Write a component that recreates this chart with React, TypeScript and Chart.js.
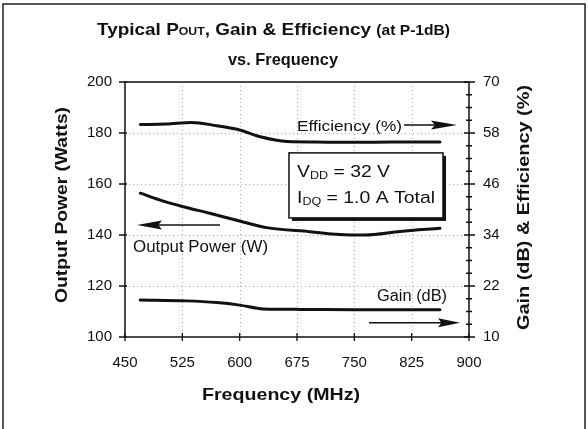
import { useEffect, useRef } from "react";
import { Chart, registerables } from "chart.js";

Chart.register(...registerables);

// ---- axis ticks ----
const FREQ_TICKS = [450, 525, 600, 675, 750, 825, 900];
const POWER_TICKS = [100, 120, 140, 160, 180, 200];
const RIGHT_TICKS = [10, 22, 34, 46, 58, 70];
const RIGHT_MINOR = [13, 16, 19, 25, 28, 31, 37, 40, 43, 49, 52, 55, 61, 64, 67];

// ---- series ----
const powerFreq = [470, 500, 525, 561, 600, 635, 692, 731, 764, 810, 862];
const powerW = [156.4, 153.3, 151.2, 148.5, 145.5, 142.9, 141.3, 140.2, 140.0, 141.4, 142.6];
const effFreq = [470, 504, 537, 570, 600, 627, 662, 700, 750, 800, 862];
const effPct = [60.0, 60.1, 60.5, 59.7, 58.7, 57.1, 56.0, 55.9, 55.8, 55.9, 55.9];
const gainFreq = [470, 530, 570, 600, 631, 680, 750, 800, 862];
const gainDb = [18.7, 18.5, 18.1, 17.5, 16.6, 16.5, 16.4, 16.4, 16.4];

const FONT = "'Liberation Sans', Arial, Helvetica, sans-serif";
const INK = "#111";

// annotation anchors in data units (freq MHz, left-axis watts)
const NOTES = {
  eff: { freq: 675, watts: 180.9, arrowY: 183.1, arrowFrom: 815, arrowTo: 884.3 },
  pout: { freq: 460.5, watts: 133.5, arrowY: 143.9, arrowFrom: 574.3, arrowTo: 465.7 },
  gain: { freq: 779.7, watts: 114.2, arrowY: 105.6, arrowFrom: 769.2, arrowTo: 888.3 },
  box: { left: 664.5, right: 866, top: 172.2, bottom: 146.7, textFreq: 675, line1: 162.7, line2: 152.5 },
};

type Run = { t: string; size: number; bold?: boolean; dy?: number };

function fontOf(r: Run) {
  return `${r.bold ? "bold " : ""}${r.size}px ${FONT}`;
}

function drawRuns(
  ctx: CanvasRenderingContext2D,
  runs: Run[],
  x: number,
  y: number,
  opts: { align?: "left" | "center"; target?: number; rotate?: boolean } = {}
) {
  ctx.save();
  let w = 0;
  for (const r of runs) {
    ctx.font = fontOf(r);
    w += ctx.measureText(r.t).width;
  }
  ctx.translate(x, y);
  if (opts.rotate) ctx.rotate(-Math.PI / 2);
  const s = opts.target ? opts.target / w : 1;
  ctx.scale(s, 1);
  let cx = opts.align === "center" ? -w / 2 : 0;
  ctx.fillStyle = INK;
  ctx.textBaseline = "alphabetic";
  ctx.textAlign = "left";
  for (const r of runs) {
    ctx.font = fontOf(r);
    ctx.fillText(r.t, cx, r.dy || 0);
    cx += ctx.measureText(r.t).width;
  }
  ctx.restore();
}

function arrow(ctx: CanvasRenderingContext2D, x1: number, y: number, x2: number, head = 24) {
  const dir = x2 > x1 ? 1 : -1;
  ctx.save();
  ctx.strokeStyle = INK;
  ctx.fillStyle = INK;
  ctx.lineWidth = 1.5;
  ctx.beginPath();
  ctx.moveTo(x1, y);
  ctx.lineTo(x2 - dir * head * 0.6, y);
  ctx.stroke();
  ctx.beginPath();
  ctx.moveTo(x2, y);
  ctx.lineTo(x2 - dir * head, y - 4.5);
  ctx.lineTo(x2 - dir * head * 0.85, y);
  ctx.lineTo(x2 - dir * head, y + 4.5);
  ctx.closePath();
  ctx.fill();
  ctx.restore();
}

const decor = {
  id: "decor",
  beforeDatasetsDraw(chart: any) {
    const { ctx, chartArea: a, scales } = chart;
    const sx = scales.x;
    const sy = scales.y;
    ctx.save();
    ctx.strokeStyle = "#a8a8a8";
    ctx.lineWidth = 1;
    ctx.setLineDash([1, 3]);
    FREQ_TICKS.slice(1, -1).forEach((f) => {
      const px = Math.round(sx.getPixelForValue(f)) + 0.5;
      ctx.beginPath();
      ctx.moveTo(px, a.top);
      ctx.lineTo(px, a.bottom);
      ctx.stroke();
    });
    POWER_TICKS.slice(1, -1).forEach((v) => {
      const py = Math.round(sy.getPixelForValue(v)) + 0.5;
      ctx.beginPath();
      ctx.moveTo(a.left, py);
      ctx.lineTo(a.right, py);
      ctx.stroke();
    });
    ctx.restore();
  },
  afterDraw(chart: any) {
    const { ctx, chartArea: a, scales } = chart;
    const sx = scales.x;
    const sy = scales.y;
    const sy1 = scales.y1;
    const X = (f: number) => sx.getPixelForValue(f);
    const Y = (v: number) => sy.getPixelForValue(v);

    ctx.save();
    // plot frame
    ctx.strokeStyle = INK;
    ctx.lineWidth = 1.5;
    ctx.strokeRect(a.left, a.top, a.right - a.left, a.bottom - a.top);

    // tick marks
    ctx.lineWidth = 1.3;
    ctx.beginPath();
    POWER_TICKS.forEach((v) => {
      const py = Y(v);
      ctx.moveTo(a.left - 6, py);
      ctx.lineTo(a.left + 2, py);
    });
    FREQ_TICKS.forEach((f) => {
      const px = X(f);
      ctx.moveTo(px, a.bottom - 4);
      ctx.lineTo(px, a.bottom + 4);
    });
    RIGHT_TICKS.forEach((v) => {
      const py = sy1.getPixelForValue(v);
      ctx.moveTo(a.right - 5, py);
      ctx.lineTo(a.right + 6, py);
    });
    RIGHT_MINOR.forEach((v) => {
      const py = sy1.getPixelForValue(v);
      ctx.moveTo(a.right - 3, py);
      ctx.lineTo(a.right + 3, py);
    });
    ctx.stroke();

    // outer figure border
    ctx.strokeStyle = "#222";
    ctx.lineWidth = 1.5;
    ctx.beginPath();
    ctx.moveTo(3, 440);
    ctx.lineTo(3, 4);
    ctx.lineTo(585, 4);
    ctx.lineTo(585, 440);
    ctx.stroke();
    ctx.restore();

    // titles
    drawRuns(
      ctx,
      [
        { t: "Typical P", size: 17, bold: true },
        { t: "OUT", size: 11, bold: true },
        { t: ", Gain & Efficiency ", size: 17, bold: true },
        { t: "(at P-1dB)", size: 14, bold: true },
      ],
      97,
      35,
      { target: 353 }
    );
    drawRuns(ctx, [{ t: "vs. Frequency", size: 17, bold: true }], 283, 65, { align: "center", target: 110 });

    // axis titles
    drawRuns(ctx, [{ t: "Output Power (Watts)", size: 16, bold: true }], 66.6, 205, {
      rotate: true,
      align: "center",
      target: 196,
    });
    drawRuns(ctx, [{ t: "Gain (dB) & Efficiency (%)", size: 17, bold: true }], 529.4, 207.5, {
      rotate: true,
      align: "center",
      target: 245,
    });
    drawRuns(ctx, [{ t: "Frequency (MHz)", size: 17, bold: true }], 202, 400, { target: 158 });

    // series notes
    const n = NOTES;
    drawRuns(ctx, [{ t: "Efficiency (%)", size: 15 }], X(n.eff.freq), Y(n.eff.watts), { target: 105 });
    arrow(ctx, X(n.eff.arrowFrom), Y(n.eff.arrowY), X(n.eff.arrowTo), 26);
    drawRuns(ctx, [{ t: "Output Power (W)", size: 16 }], X(n.pout.freq), Y(n.pout.watts), { target: 135 });
    arrow(ctx, X(n.pout.arrowFrom), Y(n.pout.arrowY), X(n.pout.arrowTo), 25);
    drawRuns(ctx, [{ t: "Gain (dB)", size: 16 }], X(n.gain.freq), Y(n.gain.watts), { target: 70 });
    arrow(ctx, X(n.gain.arrowFrom), Y(n.gain.arrowY), X(n.gain.arrowTo), 22);

    // condition box
    const bl = X(n.box.left);
    const br = X(n.box.right);
    const bt = Y(n.box.top);
    const bb = Y(n.box.bottom);
    ctx.save();
    ctx.fillStyle = INK;
    ctx.fillRect(bl + 3, bt + 3, br - bl, bb - bt);
    ctx.fillStyle = "#fff";
    ctx.fillRect(bl, bt, br - bl, bb - bt);
    ctx.strokeStyle = INK;
    ctx.lineWidth = 1.5;
    ctx.strokeRect(bl, bt, br - bl, bb - bt);
    ctx.restore();
    drawRuns(
      ctx,
      [
        { t: "V", size: 17 },
        { t: "DD", size: 11, dy: 2 },
        { t: " = 32 V", size: 17 },
      ],
      X(n.box.textFreq),
      Y(n.box.line1),
      { target: 93 }
    );
    drawRuns(
      ctx,
      [
        { t: "I", size: 17 },
        { t: "DQ", size: 11, dy: 2 },
        { t: " = 1.0 A Total", size: 17 },
      ],
      X(n.box.textFreq),
      Y(n.box.line2),
      { target: 138 }
    );
  },
};

export default function App() {
  const ref = useRef<HTMLCanvasElement>(null);

  useEffect(() => {
    document.body.style.margin = "0";
    const pts = (xs: number[], ys: number[]) => xs.map((x, i) => ({ x, y: ys[i] }));
    const lineStyle = {
      borderColor: INK,
      borderWidth: 3,
      pointRadius: 0,
      fill: false,
      cubicInterpolationMode: "monotone" as const,
      borderCapStyle: "round" as const,
    };
    const tickFont = { family: FONT, size: 15 };
    const chart = new Chart(ref.current!, {
      type: "line",
      data: {
        datasets: [
          { label: "Output Power (W)", data: pts(powerFreq, powerW), yAxisID: "y", ...lineStyle },
          { label: "Efficiency (%)", data: pts(effFreq, effPct), yAxisID: "y1", ...lineStyle },
          { label: "Gain (dB)", data: pts(gainFreq, gainDb), yAxisID: "y1", ...lineStyle },
        ],
      },
      options: {
        animation: false,
        responsive: true,
        maintainAspectRatio: false,
        layout: { padding: { top: 82, left: 0, right: 0, bottom: 0 } },
        plugins: { legend: { display: false }, tooltip: { enabled: false }, title: { display: false } },
        scales: {
          x: {
            type: "linear",
            min: 450,
            max: 900,
            afterBuildTicks: (s: any) => {
              s.ticks = FREQ_TICKS.map((v) => ({ value: v }));
            },
            afterFit: (s: any) => {
              s.height = 92;
            },
            grid: { display: false, drawTicks: false },
            border: { display: false },
            ticks: { color: INK, font: tickFont, padding: 17, maxRotation: 0 },
          },
          y: {
            type: "linear",
            position: "left",
            min: 100,
            max: 200,
            afterBuildTicks: (s: any) => {
              s.ticks = POWER_TICKS.map((v) => ({ value: v }));
            },
            afterFit: (s: any) => {
              s.width = 125;
            },
            grid: { display: false, drawTicks: false },
            border: { display: false },
            ticks: { color: INK, font: tickFont, padding: 13 },
          },
          y1: {
            type: "linear",
            position: "right",
            min: 10,
            max: 70,
            afterBuildTicks: (s: any) => {
              s.ticks = RIGHT_TICKS.map((v) => ({ value: v }));
            },
            afterFit: (s: any) => {
              s.width = 119;
            },
            grid: { display: false, drawTicks: false },
            border: { display: false },
            ticks: { color: INK, font: tickFont, padding: 14 },
          },
        },
      },
      plugins: [decor],
    });
    return () => chart.destroy();
  }, []);

  return (
    <div style={{ position: "relative", width: 588, height: 429 }}>
      <canvas ref={ref} />
    </div>
  );
}
